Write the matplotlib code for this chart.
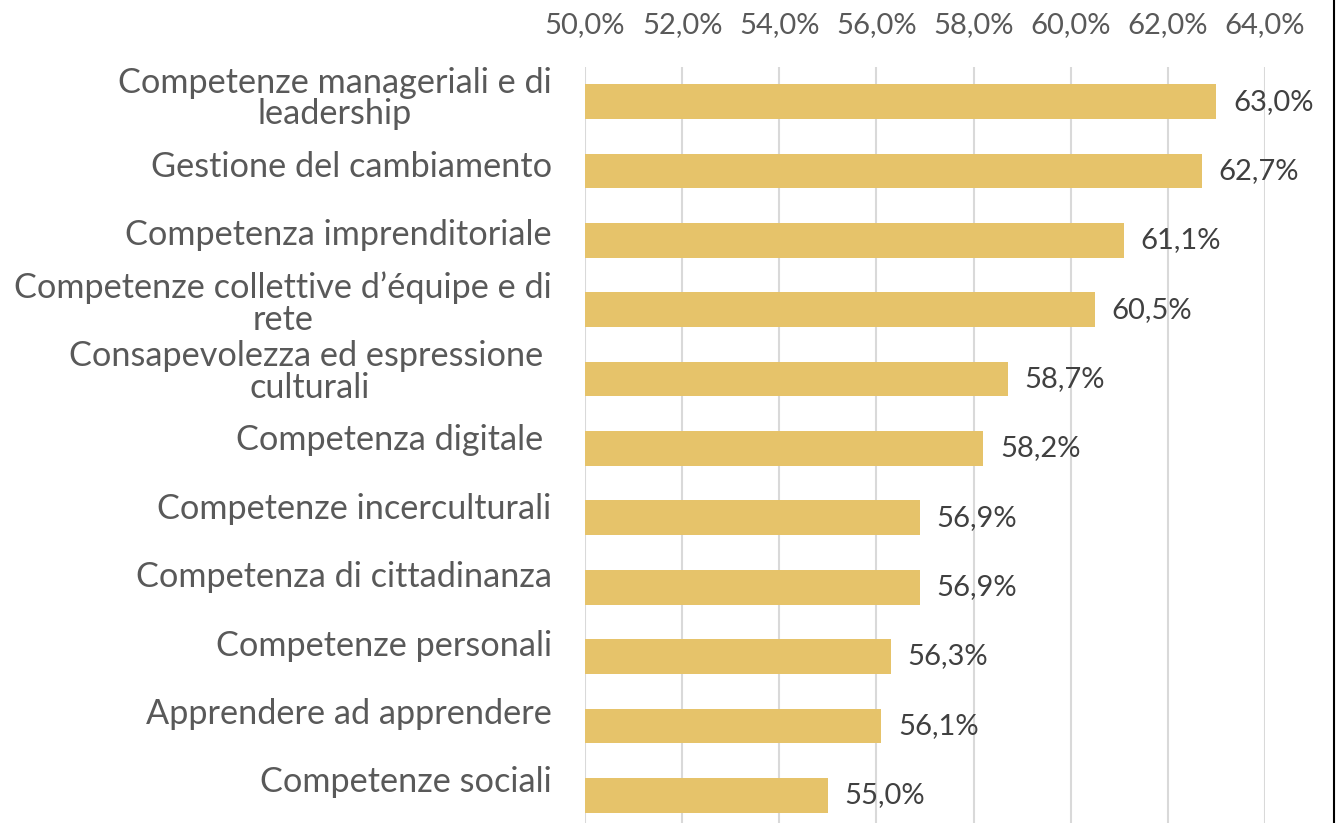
import matplotlib.pyplot as plt
from matplotlib.lines import Line2D
from matplotlib.ticker import FuncFormatter
from matplotlib.transforms import ScaledTranslation

categories = [
    'Competenze manageriali e di\nleadership',
    'Gestione del cambiamento',
    'Competenza imprenditoriale',
    'Competenze collettive d\u2019\u00e9quipe e di\nrete',
    'Consapevolezza ed espressione \nculturali',
    'Competenza digitale ',
    'Competenze incerculturali',
    'Competenza di cittadinanza',
    'Competenze personali',
    'Apprendere ad apprendere',
    'Competenze sociali',
]
values = [63.0, 62.7, 61.1, 60.5, 58.7, 58.2, 56.9, 56.9, 56.3, 56.1, 55.0]
ticks = [50, 52, 54, 56, 58, 60, 62, 64]

plt.rcParams['font.family'] = ['Lato', 'DejaVu Sans']
grey = '#595959'

fig = plt.figure(figsize=(13.37, 8.23), dpi=100)
ax = fig.add_axes([585 / 1337, 0, (1265 - 585) / 1337, 1 - 67 / 823])

pos = list(range(len(values)))
ax.barh(pos, [v - 50 for v in values], left=50, height=0.5, color='#E6C36A', zorder=2)

for p, v in zip(pos, values):
    ax.annotate(f'{v:.1f}%'.replace('.', ','), (v, p), xytext=(12, 0), textcoords='offset points',
                va='center', ha='left', fontsize=21, color='#404040')

ax.set_xlim(50, 64)
ax.set_ylim(10.40, -0.5)
ax.set_xticks(ticks)
ax.xaxis.set_major_formatter(FuncFormatter(lambda x, _: f'{x:.1f}%'.replace('.', ',')))
ax.xaxis.tick_top()
ax.tick_params(axis='x', length=0, pad=21, labelsize=21, labelcolor=grey)
ax.set_yticks(pos)
ax.set_yticklabels(categories, fontsize=24.7, color=grey, ha='right', multialignment='center', linespacing=0.98)
ax.tick_params(axis='y', length=0, pad=24)
# category labels sit a little above their bars in the original
for i, lab in enumerate(ax.get_yticklabels()):
    lab.set_transform(lab.get_transform() + ScaledTranslation(0, (6 + i) / 100, fig.dpi_scale_trans))
ax.grid(axis='x', color='#D9D9D9', linewidth=1.5, zorder=0)
for s in ax.spines.values():
    s.set_visible(False)

fig.add_artist(Line2D([1333.5 / 1337] * 2, [0, 1], color='black', linewidth=1.5))

plt.savefig('out.png', dpi=100)
